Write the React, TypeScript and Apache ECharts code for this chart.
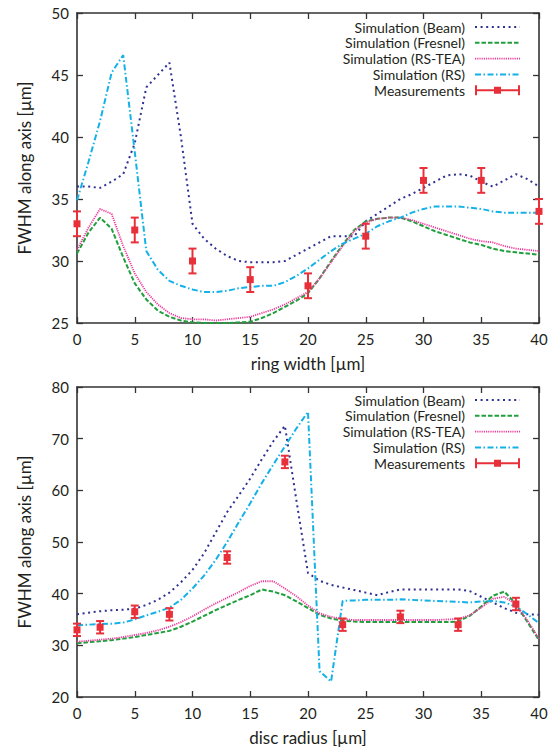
import React, { useEffect, useRef } from "react";
import * as echarts from "echarts";

const xs = [0, 1, 2, 3, 4, 5, 6, 7, 8, 9, 10, 11, 12, 13, 14, 15, 16, 17, 18, 19, 20, 21, 22, 23, 24, 25, 26, 27, 28, 29, 30, 31, 32, 33, 34, 35, 36, 37, 38, 39, 40];

// Top chart: FWHM vs ring width
const topBeam = [36, 36, 35.9, 36.4, 37, 39.5, 44, 45, 46, 40, 33, 31.8, 31, 30.4, 30, 29.9, 29.9, 29.9, 30, 30.5, 31, 31.5, 32, 32, 32, 33.2, 33.8, 34.4, 35, 35.4, 35.9, 36.4, 36.9, 37, 36.9, 36.4, 36, 36.5, 37, 36.6, 36];
const topFresnel = [30.6, 32.3, 33.5, 32.6, 30.3, 28.2, 26.9, 26, 25.5, 25.2, 25.05, 25, 25, 25, 25.05, 25.1, 25.4, 25.8, 26.3, 26.8, 27.4, 28.6, 30, 31.3, 32.5, 33.2, 33.4, 33.5, 33.5, 33.2, 32.8, 32.4, 32.1, 31.8, 31.5, 31.3, 31, 30.8, 30.7, 30.6, 30.5];
const topRSTEA = [30.9, 32.7, 34.2, 33.8, 31.2, 29, 27.5, 26.5, 25.8, 25.4, 25.3, 25.3, 25.2, 25.3, 25.4, 25.5, 25.8, 26.1, 26.5, 27, 27.5, 28.6, 29.9, 31.2, 32.4, 33.1, 33.4, 33.5, 33.5, 33.3, 33, 32.7, 32.4, 32.1, 31.8, 31.6, 31.5, 31.2, 31, 30.9, 30.8];
const topRS = [34.9, 38, 41.3, 45.2, 46.6, 38.8, 30.8, 29.3, 28.4, 28, 27.7, 27.5, 27.5, 27.6, 27.8, 27.9, 28, 28, 28.3, 28.8, 29.4, 30.1, 30.8, 31.4, 31.8, 32.2, 32.8, 33.2, 33.5, 33.9, 34.2, 34.4, 34.4, 34.4, 34.3, 34.2, 34, 33.9, 33.9, 33.9, 33.9];
const topMeasX = [0, 5, 10, 15, 20, 25, 30, 35, 40];
const topMeasY = [33, 32.5, 30, 28.5, 28, 32, 36.5, 36.5, 34];
const topMeasErr = [1, 1, 1, 1, 1, 1, 1, 1, 1];

// Bottom chart: FWHM vs disc radius
const botBeam = [36, 36.3, 36.6, 36.8, 36.9, 37.1, 37.8, 38.8, 40.2, 42.2, 44.6, 47.8, 51.8, 55.8, 59, 62.3, 66, 69.5, 72.5, 58, 44, 42.5, 41.7, 41.2, 40.7, 40.2, 39.7, 40.3, 40.8, 40.8, 40.8, 40.8, 40.8, 40.8, 40.5, 39.4, 38.3, 37.2, 36.3, 36, 35.9];
const botFresnel = [30.4, 30.6, 30.8, 31, 31.3, 31.6, 32, 32.4, 32.8, 33.6, 34.6, 35.7, 36.8, 37.8, 38.8, 39.7, 40.8, 40.4, 39.7, 38.5, 37.2, 35.9, 35.2, 34.8, 34.6, 34.5, 34.5, 34.5, 34.5, 34.5, 34.5, 34.5, 34.5, 34.6, 35.7, 37.5, 39.6, 40.4, 38, 34.5, 31];
const botRSTEA = [30.7, 30.9, 31.1, 31.3, 31.6, 32, 32.4, 32.9, 33.6, 34.5, 35.6, 36.9, 38.1, 39.2, 40.3, 41.5, 42.4, 42.4, 41, 39.5, 37.7, 36.2, 35.5, 35.1, 34.9, 34.9, 34.9, 34.9, 34.9, 34.9, 34.9, 34.9, 35, 35.1, 35.8, 37.3, 39, 39.4, 37.9, 34.8, 31.3];
const botRS = [33.9, 34, 34.1, 34.2, 34.4, 35, 35.8, 36.5, 37.3, 38.8, 41, 43.5, 46.5, 50, 53.8, 57.5, 61.4, 65, 68.5, 72, 75.2, 25, 23, 38.6, 38.7, 38.8, 38.8, 38.8, 38.9, 38.8, 38.7, 38.6, 38.5, 38.4, 38.3, 38.5, 38.6, 38.3, 37.5, 36, 34.3];
const botMeasX = [0, 2, 5, 8, 13, 18, 23, 28, 33, 38];
const botMeasY = [33, 33.5, 36.5, 36, 47, 65.5, 34, 35.5, 34, 38];
const botMeasErr = [1.2, 1.2, 1.2, 1.2, 1.2, 1.2, 1.2, 1.2, 1.2, 1.2];

const names = ["Simulation (Beam)", "Simulation (Fresnel)", "Simulation (RS-TEA)", "Simulation (RS)", "Measurements"];
const topXTitle = "ring width [µm]";
const botXTitle = "disc radius [µm]";
const yTitle = "FWHM along axis [µm]";

const FONT = "Lato";
const AX = "#333333";
const TXT = "#231f20";
const colors = ["#2e3192", "#1fa03c", "#ec3c9a", "#14b1e7", "#e8303a"];
const dashes: number[][] = [[2, 3.6], [4.5, 2], [1.2, 1], [6, 2.5, 1.5, 2.5]];
const widths = [2, 2, 1.8, 2];

function App() {
  const ref = useRef<HTMLDivElement>(null);
  useEffect(() => {
    if (!ref.current) return;
    const chart = echarts.init(ref.current, null, { renderer: "svg" });

    const lineSeries = (gi: number, vals: number[][]) =>
      vals.map((v, k) => ({
        name: names[k],
        type: "line",
        xAxisIndex: gi * 2,
        yAxisIndex: gi * 2,
        data: xs.map((x, i) => [x, v[i]]),
        symbol: "none",
        lineStyle: { color: colors[k], width: widths[k], type: dashes[k], cap: "butt" },
        itemStyle: { color: colors[k] },
        z: 2 + k,
      }));

    const measSeries = (gi: number, mx: number[], my: number[], me: number[]) => ({
      name: names[4],
      type: "custom",
      coordinateSystem: "cartesian2d",
      xAxisIndex: gi * 2,
      yAxisIndex: gi * 2,
      data: mx.map((x, i) => [x, my[i], me[i]]),
      encode: { x: 0, y: 1 },
      itemStyle: { color: colors[4] },
      z: 10,
      renderItem: (params: any, api: any) => {
        const x = api.value(0);
        const y = api.value(1);
        const e = api.value(2);
        const c = api.coord([x, y]);
        const t = api.coord([x, y + e]);
        const b = api.coord([x, y - e]);
        const st = { stroke: colors[4], lineWidth: 2 };
        return {
          type: "group",
          children: [
            { type: "line", shape: { x1: c[0], y1: t[1], x2: c[0], y2: b[1] }, style: st },
            { type: "line", shape: { x1: c[0] - 4, y1: t[1], x2: c[0] + 4, y2: t[1] }, style: st },
            { type: "line", shape: { x1: c[0] - 4, y1: b[1], x2: c[0] + 4, y2: b[1] }, style: st },
            { type: "rect", shape: { x: c[0] - 3.5, y: c[1] - 3.5, width: 7, height: 7 }, style: { fill: colors[4] } },
          ],
        };
      },
    });

    const mkX = (gi: number, pos: string, title: string | null) => ({
      type: "value",
      gridIndex: gi,
      position: pos,
      min: 0,
      max: 40,
      interval: 5,
      name: title || "",
      nameLocation: "middle",
      nameGap: 32,
      nameTextStyle: { fontFamily: FONT, fontSize: 17, color: TXT },
      axisLine: { show: true, onZero: false, lineStyle: { color: AX, width: 1.6 } },
      axisTick: { show: true, inside: true, length: 6, lineStyle: { color: AX, width: 1.3 } },
      axisLabel: { show: !!title, margin: 8, fontFamily: FONT, fontSize: 15, color: TXT },
      splitLine: { show: false },
    });

    const mkY = (gi: number, pos: string, min: number, max: number, iv: number, showLab: boolean) => ({
      type: "value",
      gridIndex: gi,
      position: pos,
      min,
      max,
      interval: iv,
      name: showLab ? yTitle : "",
      nameLocation: "middle",
      nameGap: 44,
      nameTextStyle: { fontFamily: FONT, fontSize: 17, color: TXT },
      axisLine: { show: true, onZero: false, lineStyle: { color: AX, width: 1.6 } },
      axisTick: { show: true, inside: true, length: 6, lineStyle: { color: AX, width: 1.3 } },
      axisLabel: { show: showLab, margin: 8, fontFamily: FONT, fontSize: 15, color: TXT },
      splitLine: { show: false },
    });

    const legendData = names.map((n, k) =>
      k === 4
        ? { name: n, icon: "path://M0,0h2v10h-2z M43,0h2v10h-2z M0,4h45v2h-45z M19,1.5h7v7h-7z", itemStyle: { opacity: 1, color: colors[4] } }
        : { name: n, itemStyle: { opacity: 0 }, lineStyle: { color: colors[k], width: widths[k], type: dashes[k], cap: "butt" } }
    );
    const mkLegend = (top: number) => ({
      top,
      right: 33,
      orient: "vertical",
      align: "right",
      itemWidth: 45,
      itemHeight: 10,
      itemGap: 1.8,
      selectedMode: false,
      textStyle: { fontFamily: FONT, fontSize: 14, lineHeight: 13.5, color: TXT, padding: [0, 5, 0, 0] },
      data: legendData,
    });

    chart.setOption({
      animation: false,
      backgroundColor: "#ffffff",
      grid: [
        { left: 77, top: 13, width: 462, height: 310 },
        { left: 77, top: 387, width: 462, height: 310 },
      ],
      xAxis: [mkX(0, "bottom", topXTitle), mkX(0, "top", null), mkX(1, "bottom", botXTitle), mkX(1, "top", null)],
      yAxis: [mkY(0, "left", 25, 50, 5, true), mkY(0, "right", 25, 50, 5, false), mkY(1, "left", 20, 80, 10, true), mkY(1, "right", 20, 80, 10, false)],
      legend: [mkLegend(15), mkLegend(388)],
      series: [
        ...lineSeries(0, [topBeam, topFresnel, topRSTEA, topRS]),
        measSeries(0, topMeasX, topMeasY, topMeasErr),
        ...lineSeries(1, [botBeam, botFresnel, botRSTEA, botRS]),
        measSeries(1, botMeasX, botMeasY, botMeasErr),
      ],
    });
    return () => chart.dispose();
  }, []);
  return <div ref={ref} style={{ position: "fixed", left: 0, top: 0, width: 559, height: 747, background: "#fff" }} />;
}

export default App;
